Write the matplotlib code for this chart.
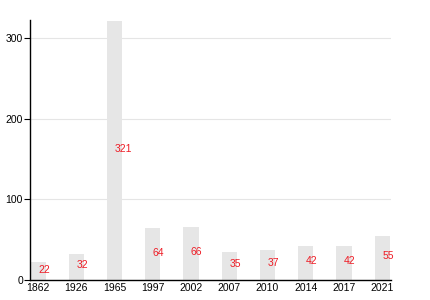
import matplotlib
matplotlib.use('Agg')
import matplotlib.pyplot as plt

years = ['1862', '1926', '1965', '1997', '2002', '2007', '2010', '2014', '2017', '2021']
values = [22, 32, 321, 64, 66, 35, 37, 42, 42, 55]

plt.rcParams['font.family'] = ['Liberation Sans', 'DejaVu Sans']

fig = plt.figure(figsize=(4.3, 3.0), dpi=100)
ax = fig.add_axes([30 / 430, 20 / 300, 361 / 430, 260 / 300])

x = list(range(len(years)))
ax.bar(x, values, width=0.4, color='#e6e6e6', zorder=2)

# value labels, left-aligned at the bar centre, halfway up
for xi, v in zip(x, values):
    ax.text(xi, v / 2 + 2, str(v), color='#ee1c25', fontsize=7.5,
            ha='left', va='center', zorder=3)

ax.set_xlim(-0.21, 9.23)
ax.set_ylim(0, 322)
ax.set_xticks(x)
ax.set_xticklabels(years)
ax.set_yticks([0, 100, 200, 300])

ax.tick_params(axis='x', length=0, labelsize=7.5, pad=2)
ax.tick_params(axis='y', length=4, width=0.8, labelsize=7.5, pad=1)
ax.grid(axis='y', color='#e5e5e5', linewidth=0.8, zorder=0)
ax.set_axisbelow(True)

for side in ['top', 'right']:
    ax.spines[side].set_visible(False)
ax.spines['left'].set_linewidth(1.0)
ax.spines['bottom'].set_linewidth(1.0)

fig.savefig('out.png', dpi=100)
